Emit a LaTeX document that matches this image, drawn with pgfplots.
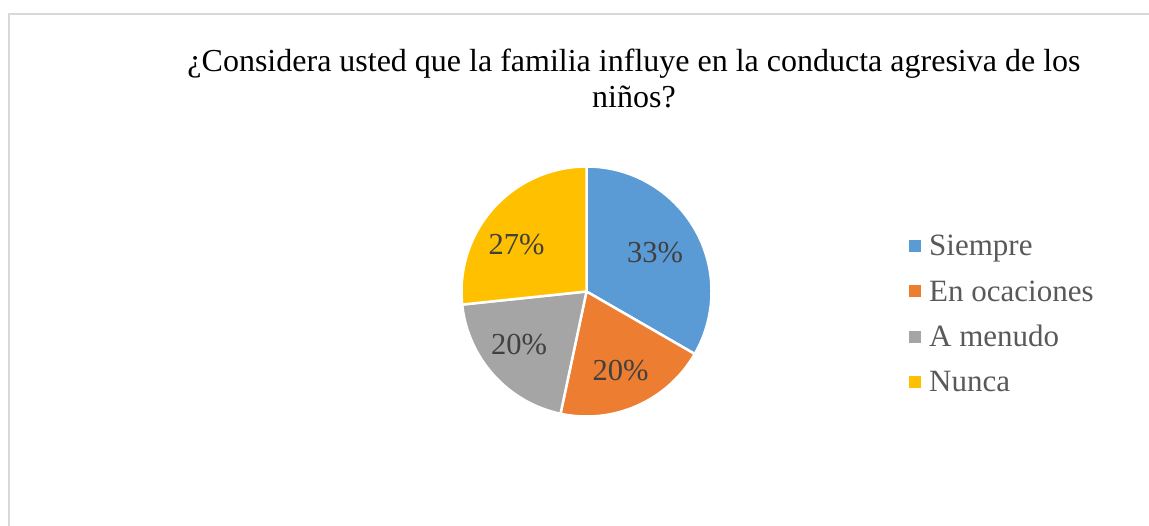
\documentclass[border=0pt]{standalone}
\usepackage{pgfplots}
\usepackage{pgfplotstable}
\pgfplotsset{compat=1.18}
\usepackage{fontspec}
\setmainfont{Liberation Serif}
\definecolor{slice0}{HTML}{5B9BD5}
\definecolor{slice1}{HTML}{ED7D31}
\definecolor{slice2}{HTML}{A5A5A5}
\definecolor{slice3}{HTML}{FFC000}
\definecolor{lbl}{HTML}{404040}
\definecolor{legtxt}{HTML}{595959}
\definecolor{framecol}{HTML}{D9D9D9}
% value = answers (of 15); labx, laby = label baseline position
\pgfplotstableread[col sep=comma]{
name,value,labx,laby
Siempre,5,655,263.3
En ocaciones,3,620.5,145.3
A menudo,3,519,171.7
Nunca,4,516.5,271.7
}\piedata
\begin{document}
\begin{tikzpicture}
\begin{axis}[
  width=1149pt, height=526pt, scale only axis,
  xmin=0, xmax=1149, ymin=0, ymax=526,
  hide axis, clip=false]
\draw[framecol, line width=1.5pt] (axis cs:9,0) -- (axis cs:9,512) -- (axis cs:1149,512);
\node[anchor=base, inner sep=0pt, font=\fontsize{32}{38}\selectfont] at (axis cs:634,454) {¿Considera usted que la familia influye en la conducta agresiva de los};
\node[anchor=base, inner sep=0pt, font=\fontsize{32}{38}\selectfont] at (axis cs:634,418) {niños?};
\def\startang{90}
\pgfplotsforeachungrouped \i in {0,...,3}{%
  \pgfplotstablegetelem{\i}{value}\of\piedata
  \let\val\pgfplotsretval
  \pgfplotstablegetelem{\i}{name}\of\piedata
  \let\nm\pgfplotsretval
  \pgfplotstablegetelem{\i}{labx}\of\piedata
  \let\lx\pgfplotsretval
  \pgfplotstablegetelem{\i}{laby}\of\piedata
  \let\ly\pgfplotsretval
  \pgfmathsetmacro\endang{\startang - 360*\val/15}%
  \pgfmathtruncatemacro\pct{round(100*\val/15)}%
  \pgfmathsetmacro\lyb{270-45.3*\i}%
  \pgfmathsetmacro\sqa{\lyb+3.8}%
  \pgfmathsetmacro\sqb{\lyb+15.8}%
  \edef\doit{%
    \noexpand\fill[fill=slice\i, draw=white, line width=2.5pt, line join=round]
      (axis cs:586.5,234.5) -- ++(\startang:125pt)
      arc[start angle=\startang, end angle=\endang, radius=125pt] -- cycle;
    \noexpand\node[lbl, anchor=base, inner sep=0pt, font=\noexpand\fontsize{30.5}{36}\noexpand\selectfont] at (axis cs:\lx,\ly) {\pct\noexpand\%};
    \noexpand\fill[slice\i] (axis cs:908.5,\sqa) rectangle (axis cs:920.5,\sqb);
    \noexpand\node[legtxt, anchor=base west, inner sep=0pt, font=\noexpand\fontsize{31}{37}\noexpand\selectfont] at (axis cs:929,\lyb) {\nm};
  }%
  \doit
  \global\let\startang\endang
}
\end{axis}
\pgfresetboundingbox
\useasboundingbox (current axis.south west) rectangle (current axis.north east);
\end{tikzpicture}
\end{document}
